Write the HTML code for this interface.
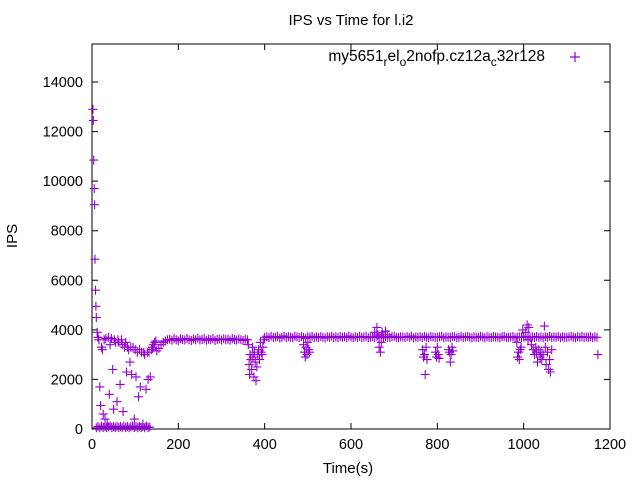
<!DOCTYPE html>
<html><head><meta charset="utf-8"><style>
html,body{margin:0;padding:0;background:#fff;}
svg{display:block;font-family:"Liberation Sans",sans-serif;}
</style></head><body>
<svg id="chart" width="640" height="480" viewBox="0 0 640 480">
<rect width="640" height="480" fill="#fff"/>
<text x="351" y="25" font-size="15" text-anchor="middle">IPS vs Time for l.i2</text>
<g id="axes"></g>
<g id="marks"></g>
<g>
<text x="545" y="61" font-size="15.5" text-anchor="end">my5651<tspan font-size="12" dy="5">r</tspan><tspan dy="-5">el</tspan><tspan font-size="12" dy="5">o</tspan><tspan dy="-5">2nofp.cz12a</tspan><tspan font-size="12" dy="5">c</tspan><tspan dy="-5">32r128</tspan></text>
<path d="M570,57h10M575,52v10" stroke="#9400d3" stroke-width="1.2"/>
</g>
<text x="348" y="473" font-size="15" text-anchor="middle">Time(s)</text>
<text transform="translate(17,236) rotate(-90)" font-size="15" text-anchor="middle">IPS</text>
</svg>
<script>
const xTicks=[0,200,400,600,800,1000,1200];
const yTicks=[0,2000,4000,6000,8000,10000,12000,14000];
const earlyT=[2,3,4,5,6,7,8,9,10,12,14,16,18,20,22,24,26,28,30,32,35,38,40,42,45,48,50,52,55,58,60,62,65,68,70,72,75,78,80,82,85,88,90,92,95,98,100,102,105,108,110,112,115,118,120,122,125,128,130,132,135,138,140,142,145,148];
const earlyY=[12900,12450,10850,9700,9050,6850,5600,4950,4500,3900,3700,3600,1700,950,3300,3200,600,3600,400,3650,200,3700,1400,3400,3650,2400,800,3600,3500,1100,3600,3500,1800,3600,3400,700,3300,3500,2300,3300,3200,2700,3300,2200,3300,400,3200,2100,3100,1300,3200,1700,3100,200,3100,3000,1600,3100,2000,3100,2100,3200,3300,3400,3500,3550];
const zeroT=[10,14,18,22,26,30,34,38,42,46,50,54,58,62,66,70,74,78,82,86,90,94,98,102,106,110,114,118,122,126,130,134];
const zeroY=[50,100,50,120,60,100,50,90,120,60,100,50,110,60,100,50,120,60,100,50,90,120,60,100,50,110,60,100,50,120,60,80];
const base1T=[150,155,160,165,170,175,180,185,190,195,200,205,210,215,220,225,230,235,240,245,250,255,260,265,270,275,280,285,290,295,300,305,310,315,320,325,330,335,340,345,350,355,360];
const base1Y=[3150,3250,3400,3500,3550,3600,3620,3580,3650,3600,3560,3640,3610,3590,3650,3600,3570,3630,3600,3660,3590,3610,3640,3580,3620,3600,3650,3570,3610,3630,3590,3640,3600,3620,3580,3650,3610,3590,3630,3600,3570,3620,3600];
const dip1T=[362,364,365,366,368,370,372,373,375,376,378,380,382,384,386,388,390,392,394,396,398];
const dip1Y=[3400,2600,2200,3000,2800,2400,3300,2900,2100,3100,2700,1950,2500,3000,3200,2800,3500,3100,3000,3300,3600];
const base2Y=[3700,3720,3680,3740,3690,3710,3730,3670,3700,3750,
3690,3720,3700,3680,3740,3710,3690,3730,3700,3660,
3720,3700,3740,3680,3710,3690,3730,3700,3670,3720,
3700,3740,3690,3710,3680,3730,3700,3720,3690,3750,
3710,3680,3720,3700,3740,3690,3710,3730,3680,3700,
3720,3690,3740,3700,3710,3680,3730,3700,3690,3720,
3740,3700,3680,3720,3710,3690,3730,3700,3750,3680,
3710,3700,3720,3690,3740,3700,3680,3730,3710,3690,
3700,3720,3740,3680,3710,3700,3690,3730,3720,3680,
3700,3740,3690,3710,3730,3700,3680,3720,3700,3690,
3740,3710,3680,3720,3700,3690,3730,3710,3700,3680,
3720,3740,3690,3700,3710,3730,3680,3700,3720,3690,
3710,3740,3700,3680,3720,3690,3730,3700,3710,3680,
3720,3700,3740,3690,3710,3700,3730,3680,3720,3700,
3690,3710,3740,3700,3680,3720,3700,3730,3690,3710,
3700,3720,3680,3710,3700];
const outT=[490,492,494,496,498,500,502,504,655,660,662,665,668,670,672,680,685,766,768,770,772,774,776,796,798,800,802,804,826,828,830,832,834,836,984,986,988,990,992,994,998,1005,1008,1010,1012,1018,1022,1025,1028,1030,1032,1035,1038,1040,1042,1045,1048,1050,1052,1055,1058,1060,1062,1065,1172];
const outY=[3400,3100,2900,3300,3000,3500,3200,3100,3900,4100,3800,3300,3100,3500,3900,3950,3800,3200,2900,3000,2200,3300,2800,3100,2900,3300,3000,2850,3200,3100,2700,3000,3300,3150,3500,2900,3100,2800,3200,3300,4000,3900,4200,3600,4100,3400,3200,3000,3300,3100,2700,3200,2900,3100,2800,3000,4150,3300,2600,3100,2400,2800,2300,3200,3000];

const NS='http://www.w3.org/2000/svg';
const L=92,R=610,T=44,B=429;
const xs=v=>L+(v-0)/1200*(R-L);
const ys=v=>B-v/14000*(B-82);
const axes=document.getElementById('axes');
const marks=document.getElementById('marks');
function mk(tag,attrs,parent){const e=document.createElementNS(NS,tag);for(const k in attrs)e.setAttribute(k,attrs[k]);parent.appendChild(e);return e;}
const frame=mk('rect',{x:L,y:T,width:R-L,height:B-T,fill:'none',stroke:'#000','stroke-width':1},axes);


xTicks.forEach(v=>{
  const x=xs(v);
  const t=mk('path',{d:`M${x},${B}v-6M${x},${T}v6`,stroke:'#000','stroke-width':1},axes);
  
  
  const l=mk('text',{x:x,y:B+20,'font-size':14.5,'text-anchor':'middle'},axes);
  l.textContent=v;
  
  
});
yTicks.forEach(v=>{
  const y=ys(v);
  const t=mk('path',{d:`M${L},${y}h6M${R},${y}h-6`,stroke:'#000','stroke-width':1},axes);
  
  
  const l=mk('text',{x:L-9,y:y+5,'font-size':14.5,'text-anchor':'end'},axes);
  l.textContent=v;
  
  
});
let d='';
function add(T2,Y2){for(let i=0;i<T2.length&&i<Y2.length;i++){const x=xs(T2[i]),y=ys(Y2[i]);d+=`M${(x-4.5).toFixed(1)},${y.toFixed(1)}h9M${x.toFixed(1)},${(y-4.5).toFixed(1)}v9`;}}
add(earlyT,earlyY);add(zeroT,zeroY);add(base1T,base1Y);add(dip1T,dip1Y);
const base2T=[];for(let i=0;i<base2Y.length;i++)base2T.push(400+5*i);
add(base2T,base2Y);add(outT,outY);
const p=mk('path',{d:d,stroke:'#9400d3','stroke-width':1.1,fill:'none'},marks);


</script>
</body></html>
